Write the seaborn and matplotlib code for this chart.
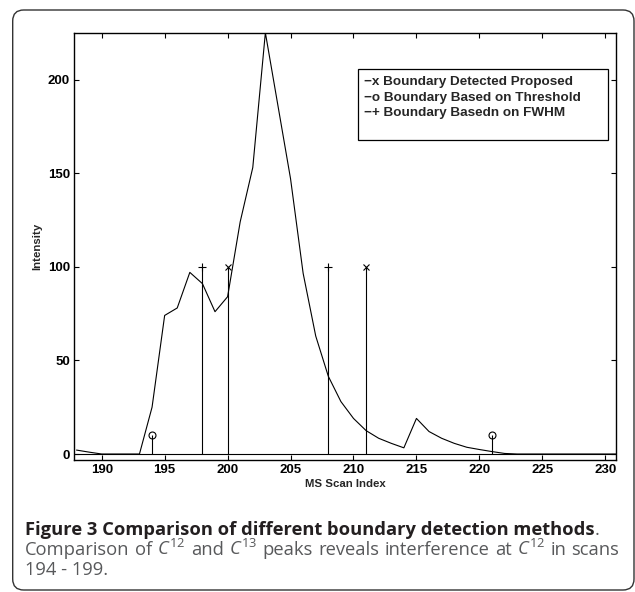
import numpy as np
import pandas as pd
import matplotlib
matplotlib.use("Agg")
import matplotlib.pyplot as plt
import seaborn as sns
from matplotlib.patches import FancyBboxPatch, Rectangle
from matplotlib.transforms import IdentityTransform

# MS scan trace
scan = list(range(188, 232))
intensity = [2.1, 1.0, 0, 0, 0, 0, 25, 74, 78, 97, 91, 76, 84, 124, 153, 225,
             186, 147, 96.5, 63, 41.5, 28, 19, 12.5, 8.4, 5.7, 3.3, 19, 12, 8.4,
             5.7, 3.6, 2.4, 1.3, 0.3, 0, 0, 0, 0, 0, 0, 0, 0, 0]

# boundaries found by each method (stem positions / heights)
proposed_x = [200, 211]
proposed_y = [100, 100]
threshold_x = [194, 221]
threshold_y = [10, 10]
fwhm_x = [198, 208]
fwhm_y = [100, 100]

legend_labels = ["\u2212x Boundary Detected Proposed",
                 "\u2212o Boundary Based on Threshold",
                 "\u2212+ Boundary Basedn on FWHM"]
x_ticks = [190, 195, 200, 205, 210, 215, 220, 225, 230]
y_ticks = [0, 50, 100, 150, 200]

caption_title = "Figure 3 Comparison of different boundary detection methods"
caption_line2 = ["Comparison", "of", r"$\mathit{C}^{12}$", "and", r"$\mathit{C}^{13}$",
                 "peaks", "reveals", "interference", "at", r"$\mathit{C}^{12}$", "in", "scans"]
caption_line3 = "194 - 199."

df = pd.DataFrame({"scan": scan, "intensity": intensity})

sns.set_style("ticks")
plt.rcParams["font.family"] = ["Liberation Sans", "DejaVu Sans"]
plt.rcParams["mathtext.fontset"] = "custom"
plt.rcParams["mathtext.rm"] = "Open Sans:normal"
plt.rcParams["mathtext.it"] = "Open Sans:italic:normal"

W, H = 635, 592
CAP_FONT = "Open Sans"
CAP_SIZE = 13.2
fig = plt.figure(figsize=(W / 100, H / 100), dpi=100)
ax = fig.add_axes([74 / W, 1 - 460 / H, 542 / W, 427.3 / H])

sns.lineplot(data=df, x="scan", y="intensity", color="black", lw=0.8, ax=ax)
ax.axhline(0, color="black", lw=0.8)
for xs, ys, mk, ms in [(proposed_x, proposed_y, "x", 5),
                       (threshold_x, threshold_y, "o", 5),
                       (fwhm_x, fwhm_y, "+", 6)]:
    ax.vlines(xs, 0, ys, color="black", lw=0.8)
    ax.plot(xs, ys, linestyle="none", marker=mk, ms=ms, mfc="none",
            mec="black", mew=0.8)

ax.set_xlim(187.8, 230.85)
ax.set_ylim(-3.2, max(intensity))
ax.set_xticks(x_ticks)
ax.set_yticks(y_ticks)
ax.tick_params(direction="in", length=3.5, width=0.8, top=True, right=True,
               labelsize=9.5, pad=3, colors="black")
for lbl in ax.get_xticklabels() + ax.get_yticklabels():
    lbl.set_fontweight("bold")
for s in ax.spines.values():
    s.set_linewidth(1.0)
    s.set_color("black")
ax.set_xlabel("MS Scan Index", fontsize=8.2, fontweight="bold", labelpad=2)
ax.set_ylabel("Intensity", fontsize=8.2, fontweight="bold", labelpad=4)

# legend box (text only, as in the original)
ax.add_patch(Rectangle((0.5234, 0.7489), 0.9858 - 0.5234, 0.9143 - 0.7489,
                       transform=ax.transAxes, fill=True, fc="white",
                       ec="black", lw=0.9, zorder=5))
for lbl, yy in zip(legend_labels, [0.8853, 0.8479, 0.8114]):
    ax.text(0.5343, yy, lbl, transform=ax.transAxes, fontsize=9.7,
            fontweight="bold", va="center", ha="left", zorder=6)

# rounded frame around the figure
fig.add_artist(FancyBboxPatch((12.7, H - 590), 634 - 12.7, 580,
                              boxstyle="round,pad=0,rounding_size=11",
                              transform=IdentityTransform(), fill=False,
                              ec="#333333", lw=1.0))

# caption
r = fig.canvas.get_renderer()
t1 = fig.text(25 / W, 1 - 535 / H, caption_title, fontsize=CAP_SIZE,
              family=CAP_FONT, fontweight="bold", color="#231f20", va="baseline")
bb = t1.get_window_extent(r)
fig.text(bb.x1 / W, 1 - 535 / H, ".", fontsize=CAP_SIZE, family=CAP_FONT,
         color="#58595b", va="baseline")

# justified second line
words = [fig.text(0, 1 - 555 / H, w, fontsize=CAP_SIZE, family=CAP_FONT,
                  color="#58595b", va="baseline")
         for w in caption_line2]
widths = [w.get_window_extent(r).width for w in words]
gap = (619.4 - 25 - sum(widths)) / (len(words) - 1)
xpos = 25
for w, wd in zip(words, widths):
    w.set_x(xpos / W)
    xpos += wd + gap
fig.text(25 / W, 1 - 575 / H, caption_line3, fontsize=CAP_SIZE, family=CAP_FONT,
         color="#58595b", va="baseline")

fig.savefig("out.png", dpi=100)
